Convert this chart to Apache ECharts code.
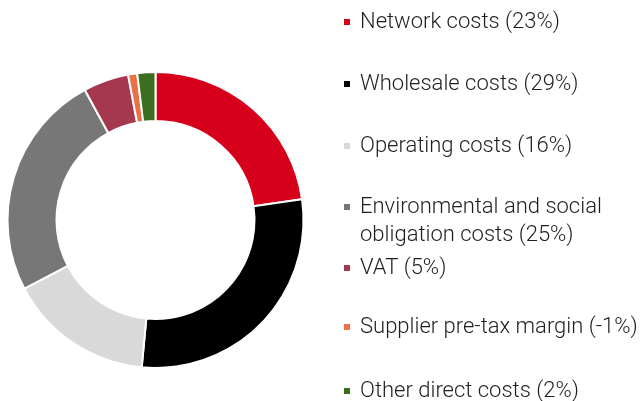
<!DOCTYPE html>
<html>
<head>
<meta charset="utf-8">
<script src="https://cdn.jsdelivr.net/npm/echarts@6/dist/echarts.min.js"></script>
<style>
  html, body { margin: 0; padding: 0; background: #fff; }
  #chart { width: 643px; height: 401px; }
</style>
</head>
<body>
<div id="chart"></div>
<script>
// cost breakdown, shares in %
var names = [
  "Network costs",
  "Wholesale costs",
  "Operating costs",
  "Environmental and social\nobligation costs",
  "VAT",
  "Supplier pre-tax margin",
  "Other direct costs"
];
var shares = [23, 29, 16, 25, 5, -1, 2];
var colors = ["#d7001b", "#000000", "#d9d9d9", "#777777", "#a5374f", "#ec7046", "#3c6e1f"];
// vertical centre of each legend marker
var legendY = [21.5, 84, 145.5, 207, 268, 327, 390.5];

var chart = echarts.init(document.getElementById("chart"), null, { renderer: "canvas" });

var legends = names.map(function (n, i) {
  var multi = n.indexOf("\n") >= 0;
  return {
    data: [n],
    left: 342,
    top: Math.round(legendY[i] - (multi ? 42 : 14)),
    padding: 0,
    icon: "rect",
    itemWidth: 8,
    itemHeight: 8,
    selectedMode: false,
    formatter: function (name) {
      var s = name + " (" + shares[names.indexOf(name)] + "%)";
      // blank first line so the marker sits on the first text line
      return name.indexOf("\n") >= 0 ? "\n" + s : s;
    },
    textStyle: {
      fontFamily: "Roboto",
      fontWeight: 300,
      fontSize: 22,
      lineHeight: 28,
      color: "#1e1e1e",
      padding: [0, 0, 0, 4]
    }
  };
});

chart.setOption({
  animation: false,
  color: colors,
  legend: legends,
  series: [
    {
      type: "pie",
      center: [155.5, 220],
      radius: [99, 148],
      startAngle: 90,
      clockwise: true,
      label: { show: false },
      labelLine: { show: false },
      itemStyle: { borderColor: "#ffffff", borderWidth: 2 },
      emphasis: { disabled: true },
      data: names.map(function (n, i) {
        return { name: n, value: Math.abs(shares[i]) };
      })
    }
  ]
});
</script>
</body>
</html>
